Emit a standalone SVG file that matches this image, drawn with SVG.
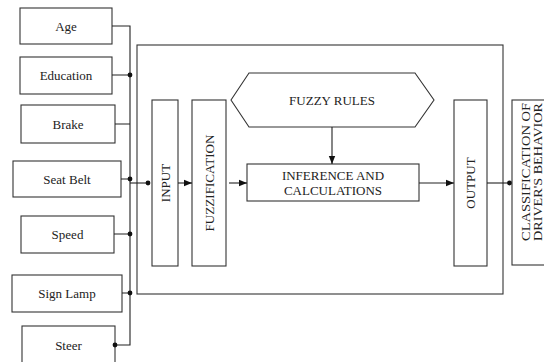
<svg xmlns="http://www.w3.org/2000/svg" width="544" height="362" viewBox="0 0 544 362">
<defs>
<style>
.b{fill:#fff;stroke:#333;stroke-width:1.1}
.t{font-family:Tinos,"Liberation Serif","Times New Roman",Times,serif;font-size:13px;fill:#222;text-anchor:middle;dominant-baseline:central}
.c{fill:none;stroke:#222;stroke-width:1.1}
.d{fill:#111}
</style>
<marker id="ah" viewBox="0 0 8 8" refX="8" refY="4" markerWidth="8" markerHeight="8" markerUnits="userSpaceOnUse" orient="auto">
<path d="M0,0.8 L8,4 L0,7.2 Z" fill="#111"/>
</marker>
</defs>
<rect width="544" height="362" fill="#fff"/>
<g id="main">
<rect class="b" x="137" y="45" width="366" height="249"/>
</g>
<g id="age"><rect class="b" x="20" y="8" width="92" height="36"/><text class="t" x="66" y="26">Age</text></g>
<g id="education"><rect class="b" x="20" y="57" width="92" height="37"/><text class="t" x="66" y="75">Education</text></g>
<g id="brake"><rect class="b" x="21" y="105" width="94" height="38"/><text class="t" x="68" y="124">Brake</text></g>
<g id="seatbelt"><rect class="b" x="13" y="161" width="108" height="36"/><text class="t" x="67" y="179">Seat Belt</text></g>
<g id="speed"><rect class="b" x="21" y="216" width="93" height="37"/><text class="t" x="67.5" y="234">Speed</text></g>
<g id="signlamp"><rect class="b" x="12" y="275" width="110" height="37"/><text class="t" x="67" y="293">Sign Lamp</text></g>
<g id="steer"><rect class="b" x="22" y="326" width="93" height="40"/><text class="t" x="68.5" y="345">Steer</text></g>
<g id="input"><rect class="b" x="152" y="100" width="26" height="166"/><text class="t" transform="translate(165,183) rotate(-90)">INPUT</text></g>
<g id="fuzzification"><rect class="b" x="192" y="100" width="34" height="166"/><text class="t" transform="translate(209,183) rotate(-90)" textLength="97" lengthAdjust="spacingAndGlyphs">FUZZIFICATION</text></g>
<g id="fuzzyrules"><polygon class="b" points="231,100 249,73 415,73 434,100 415,127 249,127"/><text class="t" x="332" y="100">FUZZY RULES</text></g>
<g id="inference"><rect class="b" x="247" y="164" width="172" height="37"/><text class="t" x="333" y="175">INFERENCE AND</text><text class="t" x="333" y="190">CALCULATIONS</text></g>
<g id="output"><rect class="b" x="454" y="100" width="33" height="166"/><text class="t" transform="translate(470.5,183) rotate(-90)">OUTPUT</text></g>
<g id="classification"><rect class="b" x="512" y="100" width="40" height="165"/><text class="t" transform="translate(525,172) rotate(-90)" textLength="138" lengthAdjust="spacingAndGlyphs">CLASSIFICATION OF</text><text class="t" transform="translate(537.5,172) rotate(-90)" textLength="138" lengthAdjust="spacingAndGlyphs">DRIVER'S BEHAVIOR</text></g>
<g id="connectors">
<path class="c" d="M112,26 H130 V345 H115"/>
<path class="c" d="M112,75 H130 M115,124 H130 M121,179 H130 M114,234 H130 M122,293 H130"/>
<path class="c" d="M130,183 H150"/>
<path class="c" d="M178,183 H192" marker-end="url(#ah)"/>
<path class="c" d="M229,183 H247" marker-end="url(#ah)"/>
<path class="c" d="M332,127 V164" marker-end="url(#ah)"/>
<path class="c" d="M419,183 H454" marker-end="url(#ah)"/>
<path class="c" d="M487,183 H510"/>
<circle class="d" cx="130" cy="75" r="2.4"/>
<circle class="d" cx="130" cy="179" r="2.4"/>
<circle class="d" cx="148" cy="183" r="2.4"/>
<circle class="d" cx="130" cy="234" r="2.4"/>
<circle class="d" cx="130" cy="293" r="2.4"/>
<circle class="d" cx="115" cy="345" r="2.4"/>
<circle class="d" cx="509.5" cy="183" r="2.4"/>
</g>
</svg>
